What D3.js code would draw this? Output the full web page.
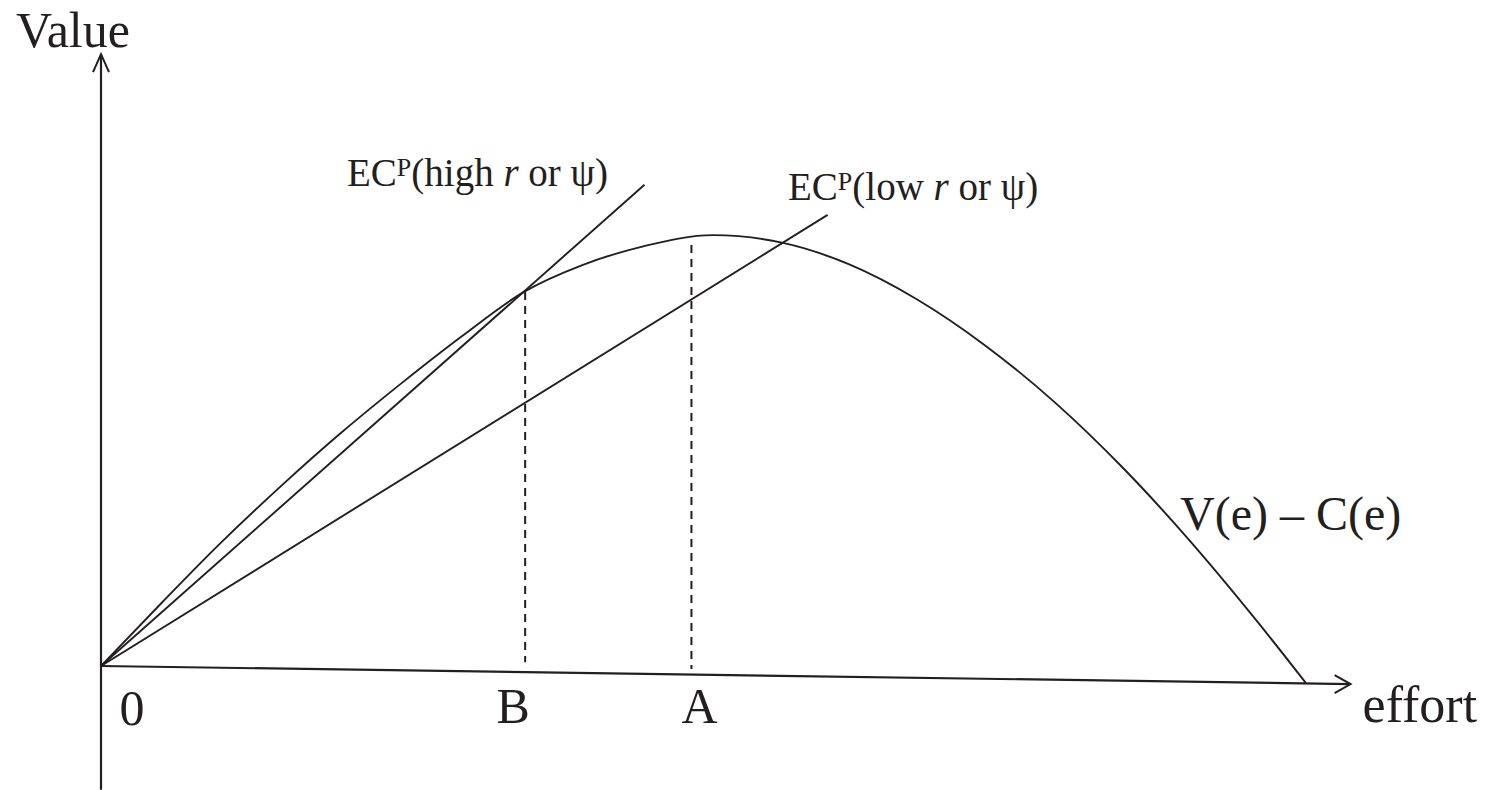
<!DOCTYPE html>
<html lang="en">
<head>
    <meta charset="UTF-8">
    <title>Value vs effort</title>
    <script src="https://d3js.org/d3.v7.min.js"></script>
    <style>
        body { margin: 0; background: #fff; }
        .lbl {
            font-family: "Liberation Serif", "DejaVu Serif", serif;
            fill: #231f20;
        }
        .ln {
            fill: none;
            stroke: #231f20;
        }
    </style>
</head>
<body>
    <svg width="1485" height="790"></svg>
    <script>
        // V(e) - C(e) (effort 0..100, value peak ~100)
        const curveEffort = [0, 5, 10, 15, 20, 25, 30, 35.1, 40, 45, 50.8, 56.6, 62.1, 67.7, 73.4, 79.2, 84.8, 90.4, 96, 100];
        const curveValue  = [0, 14.6, 28.8, 42.0, 54.4, 65.9, 76.8, 87.0, 93.3, 97.6, 100.2, 98.4, 93.4, 85.3, 74.5, 61.2, 46.1, 29.0, 10.2, -4.0];

        // EC^P rays from the origin: [effort, value] of far end
        const rayNames = ["high", "low"];
        const rayEnd = [[45.1, 111.9], [60.3, 104.9]];

        // dashed drop lines at B and A: effort, top value, bottom value
        const markNames = ["B", "A"];
        const markEffort = [35.2, 49.0];
        const markTop = [87.0, 97.9];
        const markBottom = [0.9, -0.7];

        // axis extents (the x axis is drawn slightly sloped in the source)
        const xAxisEnd = [103.7, -4.2];
        const yAxisRange = [-28.8, 142.3];

        const x = d3.scaleLinear().domain([0, 100]).range([101, 1306]);
        const y = d3.scaleLinear().domain([0, 100]).range([666, 236]);

        const svg = d3.select("svg");
        const line = d3.line().x(d => x(d[0])).y(d => y(d[1]));

        // axes
        svg.append("path").attr("class", "ln").attr("stroke-width", 2.2)
            .attr("d", line([[0, yAxisRange[0]], [0, yAxisRange[1]]]));
        svg.append("path").attr("class", "ln").attr("stroke-width", 2.2)
            .attr("d", line([[0, 0], xAxisEnd]));

        // open arrow heads
        const yt = [x(0), y(yAxisRange[1])];
        svg.append("path").attr("class", "ln").attr("stroke-width", 2)
            .attr("d", `M${yt[0] - 8},${yt[1] + 18}L${yt[0]},${yt[1]}L${yt[0] + 8},${yt[1] + 18}`);
        const xt = [x(xAxisEnd[0]), y(xAxisEnd[1])];
        svg.append("path").attr("class", "ln").attr("stroke-width", 2)
            .attr("d", `M${xt[0] - 16},${xt[1] - 9}L${xt[0]},${xt[1]}L${xt[0] - 16},${xt[1] + 9}`);

        // curve
        const pts = curveEffort.map((e, i) => [e, curveValue[i]]);
        svg.append("path").attr("class", "ln").attr("stroke-width", 1.9)
            .attr("d", d3.line().x(d => x(d[0])).y(d => y(d[1])).curve(d3.curveMonotoneX)(pts));

        // rays
        svg.selectAll(".ray").data(rayEnd).enter().append("path")
            .attr("class", "ln ray").attr("stroke-width", 1.9)
            .attr("d", d => line([[0, 0], d]));

        // dashed drops
        svg.selectAll(".drop").data(markEffort).enter().append("path")
            .attr("class", "ln drop").attr("stroke-width", 2)
            .attr("stroke-dasharray", "8,6")
            .attr("d", (d, i) => line([[d, markTop[i]], [d, markBottom[i]]]));

        // text
        const big = 50;
        svg.append("text").attr("class", "lbl").attr("font-size", 50)
            .attr("x", x(0) - 28).attr("y", 47).attr("text-anchor", "middle").text("Value");
        svg.append("text").attr("class", "lbl").attr("font-size", 52)
            .attr("x", xt[0] + 12).attr("y", xt[1] + 38).text("effort");
        svg.append("text").attr("class", "lbl").attr("font-size", big)
            .attr("x", x(0) + 31).attr("y", 725).attr("text-anchor", "middle").text("0");
        const markDx = [-12, 8];
        svg.selectAll(".mk").data(markNames).enter().append("text")
            .attr("class", "lbl mk").attr("font-size", big).attr("text-anchor", "middle")
            .attr("x", (d, i) => x(markEffort[i]) + markDx[i]).attr("y", 723)
            .text(d => d);
        svg.append("text").attr("class", "lbl").attr("font-size", 48)
            .attr("x", 1180).attr("y", 530).text("V(e) \u2013 C(e)");

        const ecPos = [[347, 186], [788, 200]];
        rayNames.forEach((nm, i) => {
            const t = svg.append("text").attr("class", "lbl").attr("font-size", 39)
                .attr("x", ecPos[i][0]).attr("y", ecPos[i][1]);
            t.append("tspan").text("EC");
            t.append("tspan").attr("font-size", 26).attr("dy", -10).text("P");
            t.append("tspan").attr("dy", 10).text("(" + nm + " ");
            t.append("tspan").attr("font-style", "italic").text("r");
            t.append("tspan").text(" or \u03c8)");
        });
    </script>
</body>
</html>
